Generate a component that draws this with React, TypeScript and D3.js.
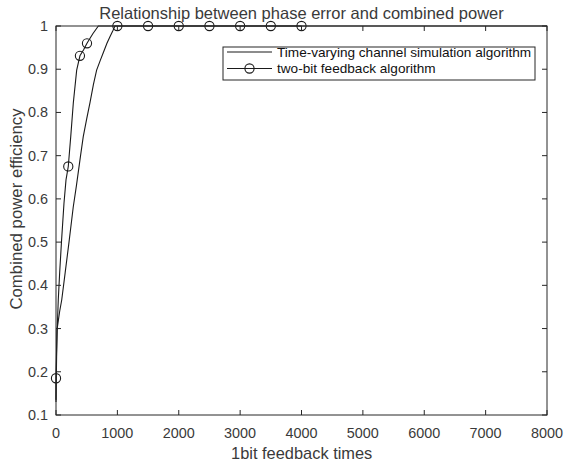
import React from "react";
import * as d3 from "d3";

const W = 564;
const H = 466;

const xTicks = [0, 1000, 2000, 3000, 4000, 5000, 6000, 7000, 8000];
const yTicks = [0.1, 0.2, 0.3, 0.4, 0.5, 0.6, 0.7, 0.8, 0.9, 1];

// Time-varying channel simulation algorithm (no markers)
const tvX = [0, 16, 60, 93, 150, 212, 280, 334, 400, 444, 500, 553, 610, 662, 720, 770, 830, 879, 930, 960, 1500, 3000, 5000, 8000];
const tvY = [0.135, 0.297, 0.34, 0.366, 0.43, 0.5, 0.58, 0.632, 0.7, 0.744, 0.785, 0.822, 0.865, 0.898, 0.92, 0.938, 0.96, 0.975, 0.99, 1, 1, 1, 1, 1];

// two-bit feedback algorithm (line)
const tbX = [0, 0, 8, 20, 37, 60, 89, 130, 163, 200, 240, 282, 337, 390, 450, 505, 600, 690, 1000, 1500, 2000, 2500, 3000, 3500, 4000];
const tbY = [0.13, 0.185, 0.24, 0.3, 0.366, 0.43, 0.5, 0.59, 0.644, 0.675, 0.744, 0.822, 0.898, 0.931, 0.945, 0.96, 0.982, 1, 1, 1, 1, 1, 1, 1, 1];

// two-bit feedback algorithm (markers)
const mkX = [0, 200, 390, 505, 1000, 1500, 2000, 2500, 3000, 3500, 4000];
const mkY = [0.185, 0.675, 0.931, 0.96, 1, 1, 1, 1, 1, 1, 1];

const FONT = "'Liberation Sans', Arial, Helvetica, sans-serif";

export default function App() {
  const left = 56, right = 547, top = 26, bottom = 415;
  const x = d3.scaleLinear().domain([0, 8000]).range([left, right]);
  const y = d3.scaleLinear().domain([0.1, 1]).range([bottom, top]);
  const line = d3.line<[number, number]>().x(d => x(d[0])).y(d => y(d[1]));
  const tvPath = line(tvX.map((v, i) => [v, tvY[i]] as [number, number])) || "";
  const tbPath = line(tbX.map((v, i) => [v, tbY[i]] as [number, number])) || "";
  const tick = 5;
  const axisColor = "#262626";
  const textColor = "#3a3a3a";
  const lineColor = "#1a1a1a";

  const legX = 223, legY = 47, legW = 312, legH = 33;

  return (
    <svg width={W} height={H} style={{ position: "absolute", left: 0, top: 0, background: "#fff" }} fontFamily={FONT}>
      <rect x={0} y={0} width={W} height={H} fill="#fff" />
      {/* curves */}
      <path d={tvPath} fill="none" stroke={lineColor} strokeWidth={1.1} />
      <path d={tbPath} fill="none" stroke={lineColor} strokeWidth={1.1} />
      {mkX.map((v, i) => (
        <circle key={i} cx={x(v)} cy={y(mkY[i])} r={4.6} fill="none" stroke={lineColor} strokeWidth={1.1} />
      ))}
      {/* box */}
      <rect x={left} y={top} width={right - left} height={bottom - top} fill="none" stroke={axisColor} strokeWidth={1} />
      {xTicks.map(t => (
        <g key={"x" + t}>
          <line x1={x(t)} x2={x(t)} y1={bottom} y2={bottom - tick} stroke={axisColor} />
          <line x1={x(t)} x2={x(t)} y1={top} y2={top + tick} stroke={axisColor} />
          <text x={x(t)} y={438} textAnchor="middle" fontSize={14.4} fill={textColor}>{t}</text>
        </g>
      ))}
      {yTicks.map(t => (
        <g key={"y" + t}>
          <line x1={left} x2={left + tick} y1={y(t)} y2={y(t)} stroke={axisColor} />
          <line x1={right} x2={right - tick} y1={y(t)} y2={y(t)} stroke={axisColor} />
          <text x={48} y={y(t) + 5} textAnchor="end" fontSize={14.4} fill={textColor}>{d3.format("~g")(t)}</text>
        </g>
      ))}
      {/* labels */}
      <text x={301.5} y={19} textAnchor="middle" fontSize={16.5} fill={textColor}>
        Relationship between phase error and combined power
      </text>
      <text x={301.7} y={459} textAnchor="middle" fontSize={16.4} fill={textColor}>
        1bit feedback times
      </text>
      <text transform={`translate(22,209) rotate(-90)`} textAnchor="middle" fontSize={16.8} fill={textColor}>
        Combined power efficiency
      </text>
      {/* legend */}
      <rect x={legX} y={legY} width={legW} height={legH} fill="#fff" stroke={axisColor} strokeWidth={1} />
      <line x1={227} x2={272} y1={52} y2={52} stroke={lineColor} strokeWidth={1.1} />
      <text x={277} y={56.8} fontSize={13.6} fill="#111">Time-varying channel simulation algorithm</text>
      <line x1={227} x2={272} y1={68.5} y2={68.5} stroke={lineColor} strokeWidth={1.1} />
      <circle cx={249.5} cy={68.5} r={4.6} fill="none" stroke={lineColor} strokeWidth={1.1} />
      <text x={277} y={73.3} fontSize={13.6} fill="#111">two-bit feedback algorithm</text>
    </svg>
  );
}
